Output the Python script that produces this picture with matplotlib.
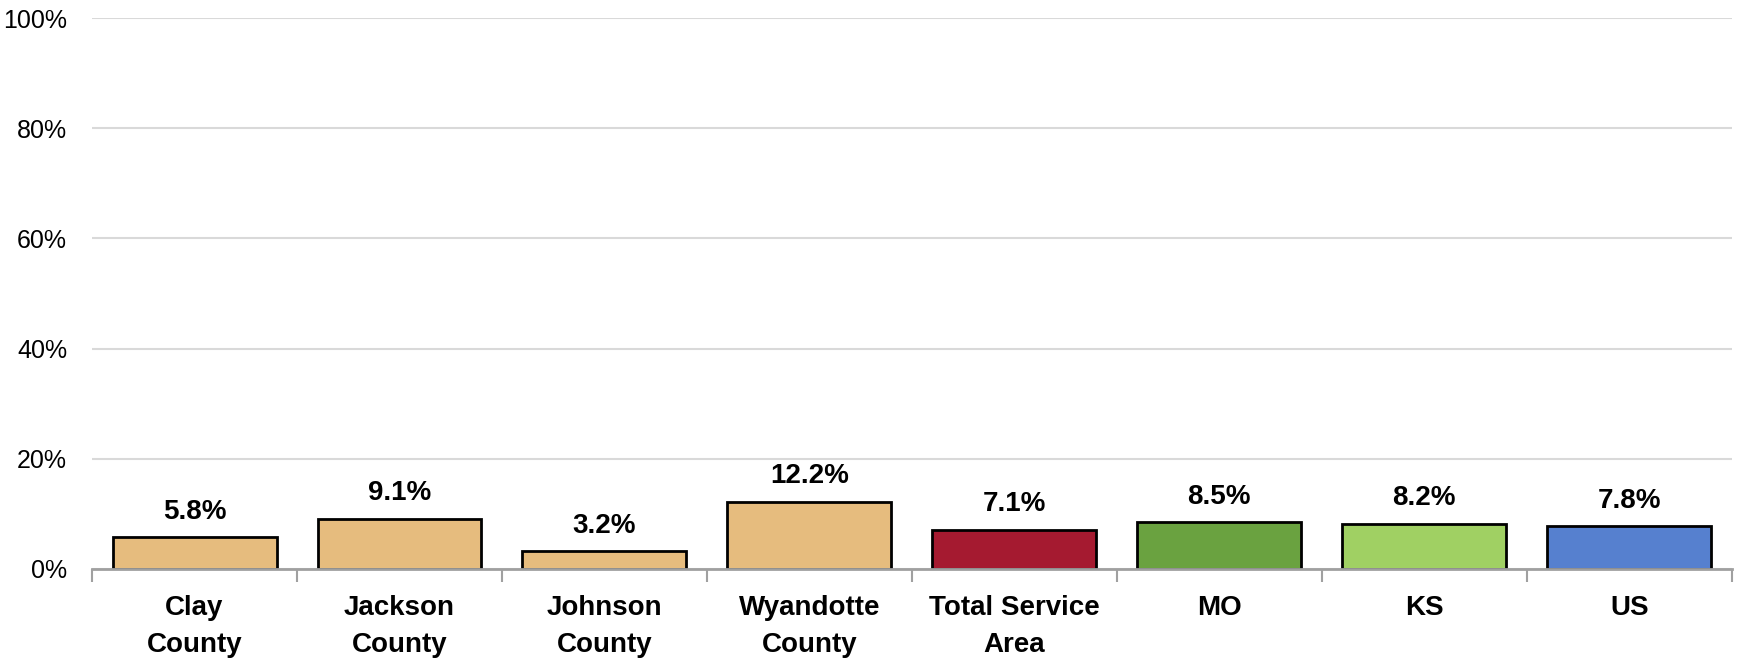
import matplotlib
matplotlib.use('Agg')
from matplotlib import pyplot as plt
from matplotlib.ticker import FuncFormatter, FixedLocator
from matplotlib import font_manager

categories = ["Clay\nCounty", "Jackson\nCounty", "Johnson\nCounty", "Wyandotte\nCounty",
              "Total Service\nArea", "MO", "KS", "US"]
values = [5.8, 9.1, 3.2, 12.2, 7.1, 8.5, 8.2, 7.8]
colors = ["#E6BC7E", "#E6BC7E", "#E6BC7E", "#E6BC7E", "#A51A30", "#6AA240", "#A0D063", "#5680CF"]

names = {f.name for f in font_manager.fontManager.ttflist}
fam = "Liberation Sans Narrow" if "Liberation Sans Narrow" in names else "Liberation Sans"
plt.rcParams['font.family'] = [fam, 'DejaVu Sans']

fig = plt.figure(figsize=(17.37, 6.63), dpi=100)
ax = fig.add_axes([0.053, 0.1418, 0.944, 0.831])

x_pos = list(range(len(categories)))
bars = ax.bar(x_pos, values, width=0.8, color=colors, edgecolor="black", linewidth=2, zorder=3)

for x, v in zip(x_pos, values):
    ax.annotate(f"{v:.1f}%", (x, v), xytext=(0, 9), textcoords="offset points",
                ha="center", va="bottom", fontsize=20, fontweight="bold")

ax.set_xlim(-0.5, len(categories) - 0.5)
ax.set_ylim(0, 100)
ax.set_yticks([0, 20, 40, 60, 80, 100])
ax.yaxis.set_major_formatter(FuncFormatter(lambda v, p: f"{v:.0f}%"))
ax.grid(axis="y", color="#D9D9D9", linewidth=1.5, zorder=0)
ax.tick_params(axis="y", length=0, labelsize=18, pad=18)

ax.set_xticks(x_pos)
ax.set_xticklabels(categories, fontsize=20, fontweight="bold", linespacing=1.55)
ax.tick_params(axis="x", which="major", length=0, pad=19)
ax.xaxis.set_minor_locator(FixedLocator([i - 0.5 for i in range(len(categories) + 1)]))
ax.tick_params(axis="x", which="minor", length=9, width=1.5, color="#A0A0A0")

for s in ["top", "right", "left"]:
    ax.spines[s].set_visible(False)
ax.spines["bottom"].set_color("#A0A0A0")
ax.spines["bottom"].set_linewidth(2)
ax.spines["bottom"].set_zorder(4)

plt.savefig("out.png", dpi=100)
